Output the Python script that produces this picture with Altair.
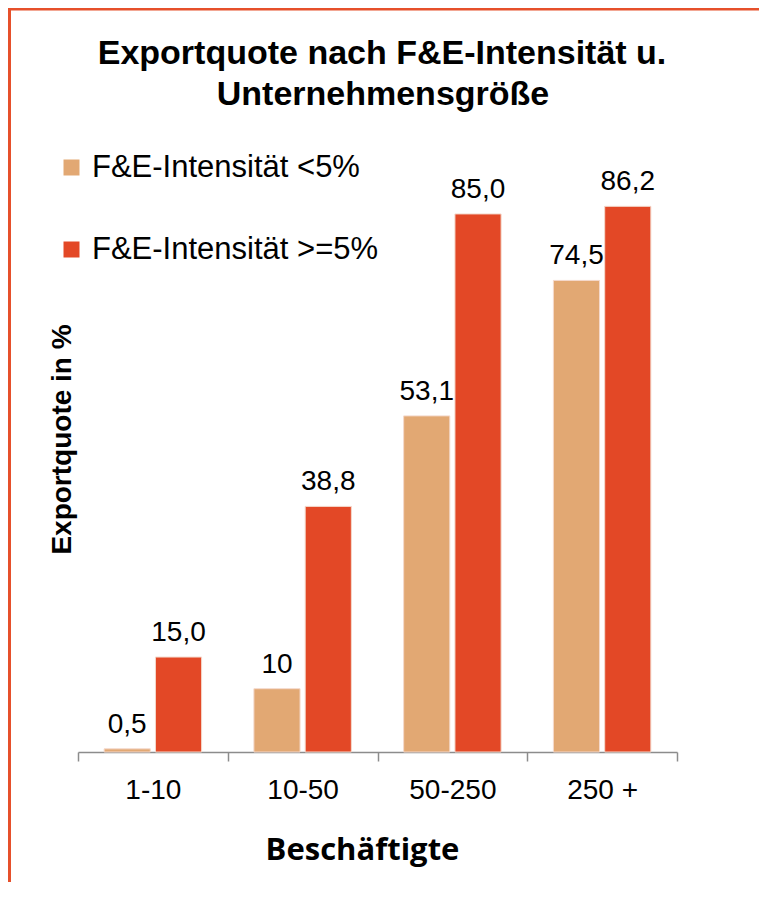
import altair as alt
import pandas as pd

categories = ["1-10", "10-50", "50-250", "250 +"]
series = ["F&E-Intensität <5%", "F&E-Intensität >=5%"]
low_values = [0.5, 10.0, 53.1, 74.5]
high_values = [15.0, 38.8, 85.0, 86.2]
low_labels = ["0,5", "10", "53,1", "74,5"]
high_labels = ["15,0", "38,8", "85,0", "86,2"]
title_lines = ["Exportquote nach F&E-Intensität u.", "Unternehmensgröße"]
colors = ["#E2A873", "#E34826"]

rows = []
for c, v, l in zip(categories, low_values, low_labels):
    rows.append({"cat": c, "series": series[0], "value": v, "label": l})
for c, v, l in zip(categories, high_values, high_labels):
    rows.append({"cat": c, "series": series[1], "value": v, "label": l})
df = pd.DataFrame(rows)
one = pd.DataFrame({"k": [0]})

FONT = "Arial, Liberation Sans, Helvetica, sans-serif"

x = alt.X("cat:N", sort=categories, title="Beschäftigte",
          scale=alt.Scale(paddingInner=0, paddingOuter=0),
          axis=alt.Axis(tickBand="extent", labelAngle=0, labelFont=FONT,
                        labelFontSize=28, labelColor="#000000",
                        labelBaseline="alphabetic", labelPadding=37,
                        domainColor="#8c8c8c", tickColor="#8c8c8c", tickSize=9,
                        domainWidth=1.5, tickWidth=1.5,
                        titleFont="Open Sans", titleFontSize=31, titleFontWeight="bold",
                        titleColor="#000000", titleBaseline="alphabetic",
                        titleX=284, titleY=107))
y = alt.Y("value:Q", scale=alt.Scale(domain=[0, 100]),
          axis=alt.Axis(labels=False, ticks=False, domain=False, grid=False,
                        title="Exportquote in %", titleFont=FONT, titleFontSize=28,
                        titleFontWeight="bold", titleColor="#000000",
                        titleBaseline="alphabetic", titleAlign="center",
                        titleAngle=270, titleX=-8, titleY=320))
xoff = alt.XOffset("series:N", sort=series,
                   scale=alt.Scale(paddingInner=0.1, paddingOuter=0.51))

bars = alt.Chart(df).mark_bar(stroke="#f4d9cc", strokeWidth=1).encode(
    x=x, y=y, xOffset=xoff,
    color=alt.Color("series:N", sort=series,
                    scale=alt.Scale(domain=series, range=colors),
                    legend=alt.Legend(title=None, orient="none", legendX=-22, legendY=33,
                                      symbolType="square", symbolSize=256,
                                      symbolStrokeWidth=0, labelFont=FONT,
                                      labelFontSize=31, labelColor="#000000",
                                      labelLimit=0, rowPadding=50, labelOffset=5,
                                      symbolOpacity=1)),
)

text = alt.Chart(df).mark_text(baseline="alphabetic", dy=-16, font=FONT,
                               fontSize=28, color="#000000").encode(
    x=alt.X("cat:N", sort=categories), y="value:Q", xOffset=xoff, text="label:N"
)

title1 = alt.Chart(one).mark_text(font=FONT, fontSize=34, fontWeight="bold",
                                  color="#000000", baseline="alphabetic").encode(
    x=alt.value(304), y=alt.value(-55), text=alt.value(title_lines[0])
)
title2 = alt.Chart(one).mark_text(font=FONT, fontSize=34, fontWeight="bold",
                                  color="#000000", baseline="alphabetic").encode(
    x=alt.value(305), y=alt.value(-14), text=alt.value(title_lines[1])
)

border_top = alt.Chart(one).mark_rule(color="#E6502B", strokeWidth=3).encode(
    x=alt.value(-69), x2=alt.value(700), y=alt.value(-110)
)
border_left = alt.Chart(one).mark_rule(color="#E6502B", strokeWidth=3).encode(
    x=alt.value(-68.5), y=alt.value(-111.5), y2=alt.value(780)
)

chart = alt.layer(bars, text, title1, title2, border_top, border_left).properties(
    width=599, height=633,
    autosize=alt.AutoSizeParams(type="none"),
    padding={"left": 70, "top": 111, "right": 82, "bottom": 130},
).configure_view(stroke=None)

chart.save("out.html", embed_options={"renderer": "svg", "actions": False})
